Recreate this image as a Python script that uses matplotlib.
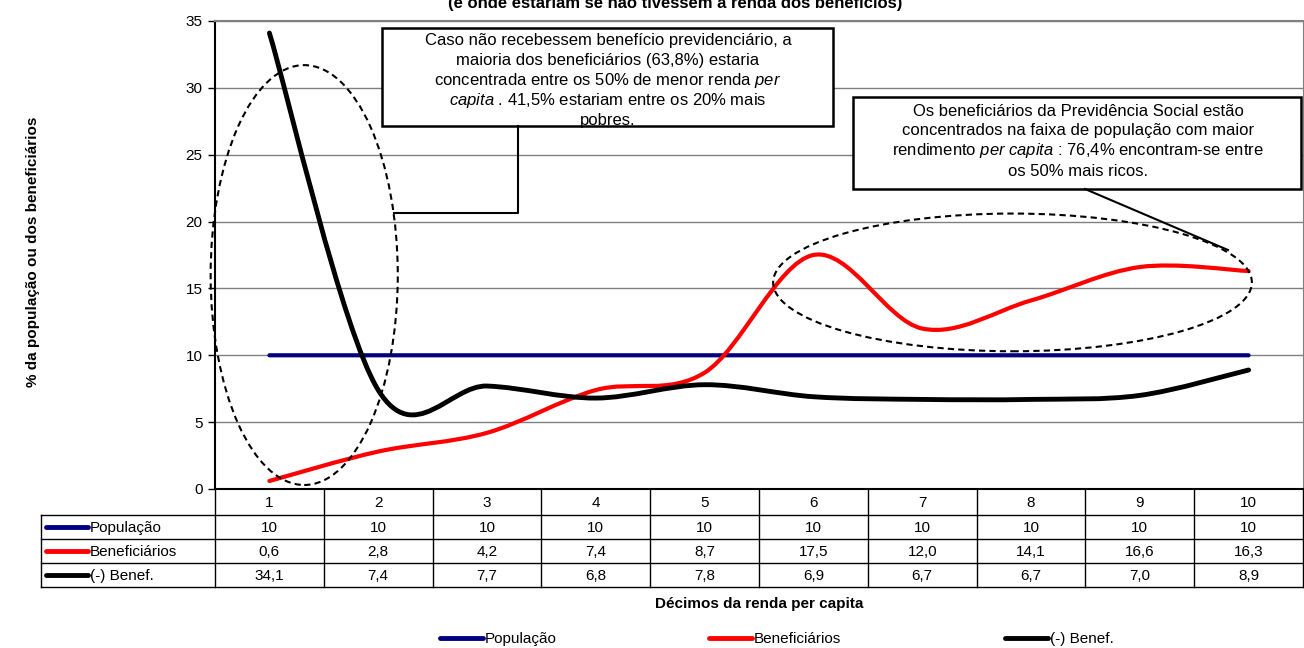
import numpy as np
import matplotlib.pyplot as plt
from matplotlib.path import Path
from matplotlib.patches import PathPatch, Ellipse, Rectangle
from matplotlib.lines import Line2D

plt.rcParams['font.family'] = ['Liberation Sans', 'DejaVu Sans']
plt.rcParams['mathtext.fontset'] = 'custom'
plt.rcParams['mathtext.rm'] = 'Liberation Sans'
plt.rcParams['mathtext.it'] = 'Liberation Sans:italic'

decis = [1, 2, 3, 4, 5, 6, 7, 8, 9, 10]
populacao = [10, 10, 10, 10, 10, 10, 10, 10, 10, 10]
beneficiarios = [0.6, 2.8, 4.2, 7.4, 8.7, 17.5, 12.0, 14.1, 16.6, 16.3]
sem_benef = [34.1, 7.4, 7.7, 6.8, 7.8, 6.9, 6.7, 6.7, 7.0, 8.9]

nomes = ['População', 'Beneficiários', '(-) Benef.']
cores = ['#000080', '#FF0000', '#000000']
larguras = [3.0, 3.0, 3.5]

W, H = 1304, 648
fig = plt.figure(figsize=(W / 100, H / 100), dpi=100)

# area do grafico em pixels
x0, x1 = 215, 1303
y0, y1 = 21, 489
ax = fig.add_axes([x0 / W, 1 - y1 / H, (x1 - x0) / W, (y1 - y0) / H])
ax.set_xlim(0.5, 10.5)
ax.set_ylim(0, 35)
ax.set_yticks(range(0, 36, 5))
ax.set_xticks([])
ax.yaxis.grid(True, color='#808080', lw=1)
ax.set_axisbelow(True)
ax.tick_params(axis='y', length=5, width=1, labelsize=11, pad=4)
ax.spines['left'].set_linewidth(1.5)
ax.spines['bottom'].set_linewidth(1.5)
ax.spines['top'].set_color('#808080')
ax.spines['top'].set_linewidth(1.5)
ax.spines['right'].set_color('#808080')


def curva_suave(xs, ys):
    # linha suavizada tipo Excel (bezier cubica)
    pts = np.column_stack([xs, ys]).astype(float)
    n = len(pts)
    verts = [pts[0]]
    codes = [Path.MOVETO]
    for i in range(n - 1):
        p0 = pts[max(i - 1, 0)]
        p1 = pts[i]
        p2 = pts[i + 1]
        p3 = pts[min(i + 2, n - 1)]
        verts += [p1 + (p2 - p0) / 6, p2 - (p3 - p1) / 6, p2]
        codes += [Path.CURVE4] * 3
    return Path(verts, codes)


for serie, cor, lw in zip([populacao, beneficiarios, sem_benef], cores, larguras):
    ax.add_patch(PathPatch(curva_suave(decis, serie), fill=False, edgecolor=cor,
                           lw=lw, capstyle='round', joinstyle='round', zorder=3))

# elipses tracejadas
ax.add_patch(Ellipse((1.32, 16.0), 1.72, 31.4, fill=False, ls=(0, (3, 2)),
                     lw=1.5, ec='black', clip_on=False, zorder=4))
ax.add_patch(Ellipse((7.83, 15.45), 4.4, 10.3, fill=False, ls=(0, (3, 2)),
                     lw=1.5, ec='black', clip_on=False, zorder=4))

# camada em pixels para tabela, caixas e legenda
ov = fig.add_axes([0, 0, 1, 1])
ov.set_xlim(0, W)
ov.set_ylim(H, 0)
ov.axis('off')
ov.set_zorder(5)
ov.patch.set_visible(False)

# titulo cortado no topo
ov.text(675, 8, '(e onde estariam se não tivessem a renda dos benefícios)',
        ha='center', va='baseline', fontsize=12, fontweight='bold')

ov.text(33, 252, '% da população ou dos beneficiários', rotation=90,
        ha='center', va='center', fontsize=11, fontweight='bold')

# tabela de dados
col_w = (x1 - x0) / 10
linhas_y = [489, 515, 539, 563, 587]
tab_x = 41
kw = dict(color='black', lw=1)
for y in linhas_y[1:]:
    ov.add_line(Line2D([tab_x, x1], [y, y], **kw))
ov.add_line(Line2D([tab_x, tab_x], [linhas_y[1], linhas_y[-1]], **kw))
for k in range(11):
    xv = x0 + k * col_w
    ov.add_line(Line2D([xv, xv], [linhas_y[0], linhas_y[-1]], **kw))

for k, d in enumerate(decis):
    ov.text(x0 + (k + 0.5) * col_w, (linhas_y[0] + linhas_y[1]) / 2 + 1, str(d),
            ha='center', va='center', fontsize=11)

series = [populacao, beneficiarios, sem_benef]
for r, (nome, serie, cor) in enumerate(zip(nomes, series, cores)):
    yc = (linhas_y[r + 1] + linhas_y[r + 2]) / 2
    ov.add_line(Line2D([46, 88], [yc, yc], color=cor, lw=3.5, solid_capstyle='round'))
    ov.text(90, yc + 1, nome, ha='left', va='center', fontsize=11)
    for k, v in enumerate(serie):
        txt = str(v) if r == 0 else f'{v:.1f}'.replace('.', ',')
        ov.text(x0 + (k + 0.5) * col_w, yc + 1, txt, ha='center', va='center', fontsize=11)

ov.text((x0 + x1) / 2, 604, 'Décimos da renda per capita', ha='center', va='center',
        fontsize=11, fontweight='bold')

# legenda
for xk, nome, cor in zip([440, 709, 1005], nomes, cores):
    ov.add_line(Line2D([xk, xk + 43], [638, 638], color=cor, lw=3.5, solid_capstyle='round'))
    ov.text(xk + 45, 639, nome, ha='left', va='center', fontsize=11)

# caixa de texto 1
ov.add_patch(Rectangle((382, 28), 451, 98, fc='white', ec='black', lw=1.8))
texto1 = ['Caso não recebessem benefício previdenciário, a',
          'maioria dos beneficiários (63,8%) estaria',
          r'concentrada entre os 50% de menor renda $\it{per}$',
          r'$\it{capita}$ . 41,5% estariam entre os 20% mais',
          'pobres.']
for i, t in enumerate(texto1):
    ov.text(608, 40 + i * 20, t, ha='center', va='center', fontsize=12)
ov.add_line(Line2D([518, 518, 394], [126, 213, 213], color='black', lw=1.5))

# caixa de texto 2
ov.add_patch(Rectangle((853, 97), 448, 92, fc='white', ec='black', lw=1.8))
texto2 = ['Os beneficiários da Previdência Social estão',
          'concentrados na faixa de população com maior',
          r'rendimento $\it{per}$ $\it{capita}$ : 76,4% encontram-se entre',
          'os 50% mais ricos.']
for i, t in enumerate(texto2):
    ov.text(1078, 111 + i * 20, t, ha='center', va='center', fontsize=12)
ov.add_line(Line2D([1085, 1228], [189, 250], color='black', lw=1.5))

fig.savefig('out.png', dpi=100)
